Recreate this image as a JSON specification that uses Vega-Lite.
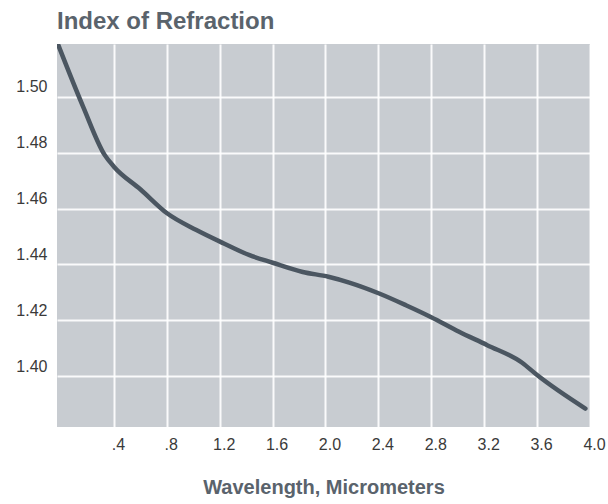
{
  "$schema": "https://vega.github.io/schema/vega-lite/v6.json",
  "autosize": {"type": "none"},
  "padding": {"left": 57, "top": 44, "right": 18, "bottom": 77},
  "width": 533,
  "height": 383,
  "title": {
    "text": "Index of Refraction",
    "anchor": "start",
    "frame": "group",
    "font": "Liberation Sans",
    "fontSize": 24,
    "fontWeight": "bold",
    "color": "#5a636c",
    "offset": 10
  },
  "data": {
    "values": [
      {"wavelength": -0.02, "index": 1.5185},
      {"wavelength": 0.168, "index": 1.4964},
      {"wavelength": 0.33, "index": 1.4792},
      {"wavelength": 0.402, "index": 1.4749},
      {"wavelength": 0.6, "index": 1.4669},
      {"wavelength": 0.802, "index": 1.4583},
      {"wavelength": 1.024, "index": 1.4523},
      {"wavelength": 1.232, "index": 1.4475},
      {"wavelength": 1.426, "index": 1.4433},
      {"wavelength": 1.601, "index": 1.4406},
      {"wavelength": 1.828, "index": 1.4373},
      {"wavelength": 2.022, "index": 1.4356},
      {"wavelength": 2.18, "index": 1.4335},
      {"wavelength": 2.406, "index": 1.4296},
      {"wavelength": 2.608, "index": 1.4254},
      {"wavelength": 2.796, "index": 1.4212},
      {"wavelength": 3.01, "index": 1.4159},
      {"wavelength": 3.223, "index": 1.4111},
      {"wavelength": 3.487, "index": 1.4048},
      {"wavelength": 3.6, "index": 1.4004},
      {"wavelength": 3.965, "index": 1.3884}
    ]
  },
  "mark": {"type": "line", "color": "#4b5661", "strokeWidth": 4.5, "interpolate": "monotone", "strokeCap": "round", "clip": true},
  "encoding": {
    "x": {
      "field": "wavelength",
      "type": "quantitative",
      "scale": {"domain": [-0.03, 4.0], "nice": false, "zero": false},
      "axis": {
        "values": [0.4, 0.8, 1.2, 1.6, 2.0, 2.4, 2.8, 3.2, 3.6, 4.0],
        "labelExpr": "datum.value < 1 ? slice(format(datum.value, '.1f'), 1) : format(datum.value, '.1f')",
        "title": "Wavelength, Micrometers",
        "titleFont": "Liberation Sans",
        "titleFontSize": 20,
        "titleFontWeight": "bold",
        "titleColor": "#5a636c",
        "titlePadding": 25,
        "labelFont": "Liberation Sans",
        "labelFontSize": 16,
        "labelColor": "#3a3a3a",
        "labelPadding": 9,
        "labelOffset": 4,
        "labelFlush": false,
        "labelOverlap": false,
        "domain": false,
        "ticks": false,
        "grid": true,
        "gridColor": "#ffffff",
        "gridWidth": 2,
        "gridOpacity": 0.9
      }
    },
    "y": {
      "field": "index",
      "type": "quantitative",
      "scale": {"domain": [1.3818, 1.5189], "nice": false, "zero": false},
      "axis": {
        "values": [1.40, 1.42, 1.44, 1.46, 1.48, 1.50],
        "format": ".2f",
        "title": null,
        "labelFont": "Liberation Sans",
        "labelFontSize": 16,
        "labelColor": "#3a3a3a",
        "labelPadding": 10,
        "labelOffset": -10,
        "labelFlush": false,
        "labelOverlap": false,
        "domain": false,
        "ticks": false,
        "grid": true,
        "gridColor": "#ffffff",
        "gridWidth": 2,
        "gridOpacity": 0.9
      }
    }
  },
  "config": {
    "view": {"fill": "#c8ccd1", "stroke": null},
    "background": "#ffffff"
  }
}
